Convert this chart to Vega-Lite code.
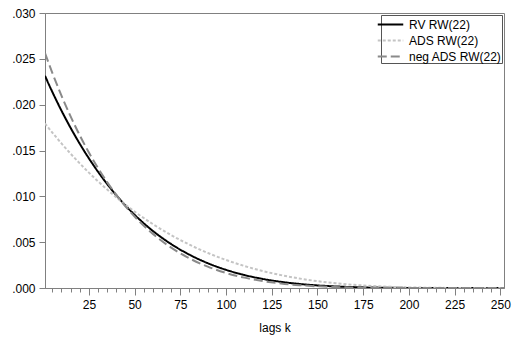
{
  "$schema": "https://vega.github.io/schema/vega-lite/v6.json",
  "width": 459,
  "height": 275,
  "autosize": {"type": "none"},
  "padding": {"left": 45, "top": 13, "right": 8, "bottom": 52},
  "background": "white",
  "config": {
    "font": "Liberation Sans",
    "view": {"stroke": "#808080", "strokeWidth": 1},
    "axis": {
      "grid": false,
      "domainColor": "#808080",
      "tickColor": "#808080",
      "labelColor": "#000000",
      "labelFontSize": 12,
      "titleFontSize": 12,
      "titleFontWeight": "normal",
      "titleColor": "#000000",
      "labelFlush": false,
      "labelOverlap": false
    },
    "legend": {
      "title": null,
      "orient": "top-right",
      "offset": 2,
      "padding": {"left": 13, "right": 4, "top": 3, "bottom": 3},
      "strokeColor": "#555555",
      "fillColor": "white",
      "symbolType": "M-1.5,0H1.5",
      "symbolSize": 289,
      "symbolStrokeWidth": 2,
      "labelFontSize": 12,
      "labelColor": "#000000",
      "rowPadding": 0,
      "labelOffset": 9
    }
  },
  "data": {
    "values": [
      {"series": "RV RW(22)", "lag": 1, "weight": 0.023145},
      {"series": "RV RW(22)", "lag": 5, "weight": 0.021393},
      {"series": "RV RW(22)", "lag": 10, "weight": 0.019353},
      {"series": "RV RW(22)", "lag": 15, "weight": 0.017471},
      {"series": "RV RW(22)", "lag": 20, "weight": 0.015738},
      {"series": "RV RW(22)", "lag": 25, "weight": 0.014144},
      {"series": "RV RW(22)", "lag": 30, "weight": 0.012682},
      {"series": "RV RW(22)", "lag": 40, "weight": 0.010118},
      {"series": "RV RW(22)", "lag": 50, "weight": 0.007985},
      {"series": "RV RW(22)", "lag": 60, "weight": 0.006226},
      {"series": "RV RW(22)", "lag": 70, "weight": 0.004791},
      {"series": "RV RW(22)", "lag": 80, "weight": 0.003632},
      {"series": "RV RW(22)", "lag": 90, "weight": 0.002708},
      {"series": "RV RW(22)", "lag": 100, "weight": 0.001982},
      {"series": "RV RW(22)", "lag": 110, "weight": 0.00142},
      {"series": "RV RW(22)", "lag": 120, "weight": 0.000993},
      {"series": "RV RW(22)", "lag": 130, "weight": 0.000675},
      {"series": "RV RW(22)", "lag": 140, "weight": 0.000444},
      {"series": "RV RW(22)", "lag": 150, "weight": 0.000281},
      {"series": "RV RW(22)", "lag": 160, "weight": 0.000169},
      {"series": "RV RW(22)", "lag": 170, "weight": 0.000096},
      {"series": "RV RW(22)", "lag": 180, "weight": 0.000051},
      {"series": "RV RW(22)", "lag": 190, "weight": 0.000024},
      {"series": "RV RW(22)", "lag": 200, "weight": 0.00001},
      {"series": "RV RW(22)", "lag": 210, "weight": 0.000004},
      {"series": "RV RW(22)", "lag": 220, "weight": 0.000001},
      {"series": "RV RW(22)", "lag": 230, "weight": 0},
      {"series": "RV RW(22)", "lag": 240, "weight": 0},
      {"series": "RV RW(22)", "lag": 250, "weight": 0},
      {"series": "RV RW(22)", "lag": 252, "weight": 0},
      {"series": "ADS RW(22)", "lag": 1, "weight": 0.017946},
      {"series": "ADS RW(22)", "lag": 5, "weight": 0.016957},
      {"series": "ADS RW(22)", "lag": 10, "weight": 0.015776},
      {"series": "ADS RW(22)", "lag": 15, "weight": 0.014655},
      {"series": "ADS RW(22)", "lag": 20, "weight": 0.013592},
      {"series": "ADS RW(22)", "lag": 25, "weight": 0.012586},
      {"series": "ADS RW(22)", "lag": 30, "weight": 0.011635},
      {"series": "ADS RW(22)", "lag": 40, "weight": 0.009888},
      {"series": "ADS RW(22)", "lag": 50, "weight": 0.008337},
      {"series": "ADS RW(22)", "lag": 60, "weight": 0.006969},
      {"series": "ADS RW(22)", "lag": 70, "weight": 0.00577},
      {"series": "ADS RW(22)", "lag": 80, "weight": 0.004727},
      {"series": "ADS RW(22)", "lag": 90, "weight": 0.003826},
      {"series": "ADS RW(22)", "lag": 100, "weight": 0.003055},
      {"series": "ADS RW(22)", "lag": 110, "weight": 0.002403},
      {"series": "ADS RW(22)", "lag": 120, "weight": 0.001857},
      {"series": "ADS RW(22)", "lag": 130, "weight": 0.001406},
      {"series": "ADS RW(22)", "lag": 140, "weight": 0.00104},
      {"series": "ADS RW(22)", "lag": 150, "weight": 0.000747},
      {"series": "ADS RW(22)", "lag": 160, "weight": 0.000519},
      {"series": "ADS RW(22)", "lag": 170, "weight": 0.000346},
      {"series": "ADS RW(22)", "lag": 180, "weight": 0.000219},
      {"series": "ADS RW(22)", "lag": 190, "weight": 0.000129},
      {"series": "ADS RW(22)", "lag": 200, "weight": 0.000069},
      {"series": "ADS RW(22)", "lag": 210, "weight": 0.000033},
      {"series": "ADS RW(22)", "lag": 220, "weight": 0.000012},
      {"series": "ADS RW(22)", "lag": 230, "weight": 0.000003},
      {"series": "ADS RW(22)", "lag": 240, "weight": 0},
      {"series": "ADS RW(22)", "lag": 250, "weight": 0},
      {"series": "ADS RW(22)", "lag": 252, "weight": 0},
      {"series": "neg ADS RW(22)", "lag": 1, "weight": 0.025635},
      {"series": "neg ADS RW(22)", "lag": 5, "weight": 0.023475},
      {"series": "neg ADS RW(22)", "lag": 10, "weight": 0.020986},
      {"series": "neg ADS RW(22)", "lag": 15, "weight": 0.018717},
      {"series": "neg ADS RW(22)", "lag": 20, "weight": 0.016653},
      {"series": "neg ADS RW(22)", "lag": 25, "weight": 0.014779},
      {"series": "neg ADS RW(22)", "lag": 30, "weight": 0.013081},
      {"series": "neg ADS RW(22)", "lag": 40, "weight": 0.010161},
      {"series": "neg ADS RW(22)", "lag": 50, "weight": 0.007797},
      {"series": "neg ADS RW(22)", "lag": 60, "weight": 0.005904},
      {"series": "neg ADS RW(22)", "lag": 70, "weight": 0.004404},
      {"series": "neg ADS RW(22)", "lag": 80, "weight": 0.003231},
      {"series": "neg ADS RW(22)", "lag": 90, "weight": 0.002327},
      {"series": "neg ADS RW(22)", "lag": 100, "weight": 0.001641},
      {"series": "neg ADS RW(22)", "lag": 110, "weight": 0.00113},
      {"series": "neg ADS RW(22)", "lag": 120, "weight": 0.000757},
      {"series": "neg ADS RW(22)", "lag": 130, "weight": 0.000492},
      {"series": "neg ADS RW(22)", "lag": 140, "weight": 0.000308},
      {"series": "neg ADS RW(22)", "lag": 150, "weight": 0.000184},
      {"series": "neg ADS RW(22)", "lag": 160, "weight": 0.000105},
      {"series": "neg ADS RW(22)", "lag": 170, "weight": 0.000056},
      {"series": "neg ADS RW(22)", "lag": 180, "weight": 0.000027},
      {"series": "neg ADS RW(22)", "lag": 190, "weight": 0.000012},
      {"series": "neg ADS RW(22)", "lag": 200, "weight": 0.000005},
      {"series": "neg ADS RW(22)", "lag": 210, "weight": 0.000001},
      {"series": "neg ADS RW(22)", "lag": 220, "weight": 0},
      {"series": "neg ADS RW(22)", "lag": 230, "weight": 0},
      {"series": "neg ADS RW(22)", "lag": 240, "weight": 0},
      {"series": "neg ADS RW(22)", "lag": 250, "weight": 0},
      {"series": "neg ADS RW(22)", "lag": 252, "weight": 0}
    ]
  },
  "mark": {"type": "line", "interpolate": "monotone", "strokeWidth": 2, "clip": true},
  "encoding": {
    "x": {
      "field": "lag",
      "type": "quantitative",
      "scale": {"domain": [1, 252], "nice": false, "zero": false},
      "axis": {
        "title": "lags k",
        "titlePadding": 12,
        "values": [5,10,15,20,25,30,35,40,45,50,55,60,65,70,75,80,85,90,95,100,105,110,115,120,125,130,135,140,145,150,155,160,165,170,175,180,185,190,195,200,205,210,215,220,225,230,235,240,245,250],
        "labelExpr": "datum.value % 25 === 0 ? datum.label : ''",
        "tickSize": {"condition": {"test": "datum.value % 25 === 0", "value": 7}, "value": 4},
        "labelPadding": 4
      }
    },
    "y": {
      "field": "weight",
      "type": "quantitative",
      "scale": {"domain": [0, 0.03], "nice": false},
      "axis": {
        "title": null,
        "values": [0, 0.005, 0.01, 0.015, 0.02, 0.025, 0.03],
        "labelExpr": "substring(format(datum.value, '.3f'), 1)",
        "tickSize": 6,
        "labelPadding": 4
      }
    },
    "color": {
      "field": "series",
      "type": "nominal",
      "sort": ["RV RW(22)", "ADS RW(22)", "neg ADS RW(22)"],
      "scale": {"domain": ["RV RW(22)", "ADS RW(22)", "neg ADS RW(22)"], "range": ["#000000", "#c4c4c4", "#8a8a8a"]}
    },
    "strokeDash": {
      "field": "series",
      "type": "nominal",
      "sort": ["RV RW(22)", "ADS RW(22)", "neg ADS RW(22)"],
      "scale": {"domain": ["RV RW(22)", "ADS RW(22)", "neg ADS RW(22)"], "range": [[1, 0], [3, 2], [9, 4]]}
    }
  }
}
